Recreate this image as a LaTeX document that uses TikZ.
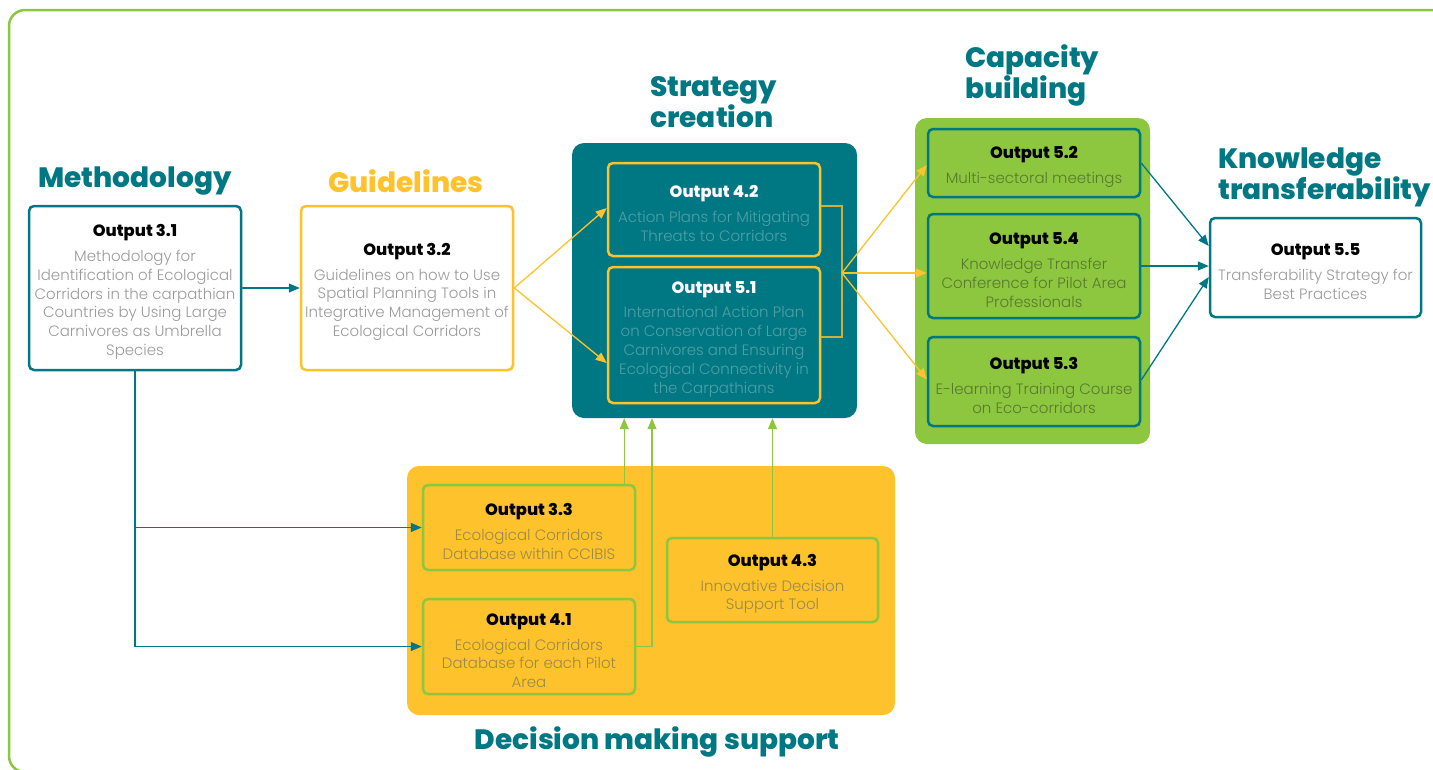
\documentclass[tikz,border=0pt]{standalone}
\usepackage{fontspec}
\setmainfont{Poppins}
\newfontfamily\lfont{Poppins Light}
\newfontfamily\xbfont{Poppins ExtraBold}
\usetikzlibrary{arrows.meta,calc}
\definecolor{teal}{HTML}{007883}
\definecolor{yel}{HTML}{FDC22C}
\definecolor{grn}{HTML}{8DC63F}
\definecolor{gtxt}{HTML}{9B9B9B}
\definecolor{ttxt}{HTML}{4F9FA6}
\definecolor{gntxt}{HTML}{587A2E}
\definecolor{ytxt}{HTML}{9C8A4A}
\definecolor{brk}{HTML}{C9B13A}
\newcommand\otitle[2]{{\color{#1}\xbfont\fontsize{16.3}{19}\selectfont\rule{0pt}{20pt}#2}\\[6pt]}
\tikzset{
  obox/.style={draw, rounded corners=5pt, line width=2.5pt, align=center, inner sep=0pt,
    font=\lfont\fontsize{15}{18.8}\selectfont},
  grp/.style={rounded corners=12pt, inner sep=0pt},
  gtitle/.style={font=\xbfont\fontsize{28}{31}\selectfont, inner sep=0pt},
  tarrow/.style={draw=teal, line width=1.3pt, -{Triangle[length=11pt,width=9pt]}},
  yarrow/.style={draw=yel, line width=1.3pt, -{Triangle[length=11pt,width=9pt]}},
  garrow/.style={draw=grn, line width=1.3pt, -{Triangle[length=11pt,width=9pt]}},
}
\begin{document}
\begin{tikzpicture}[x=1pt,y=-1pt]
\useasboundingbox (0,0) rectangle (1433,769);
\begin{scope}
\clip (0,0) rectangle (1433,769);
\draw[grn, line width=2.5pt, rounded corners=16pt] (9,10) rectangle (1470,772);
\end{scope}

% group boxes
\node[grp, fill=teal, minimum width=285pt, minimum height=275pt] (sc) at (714.5,280.5) {};
\node[grp, fill=grn, minimum width=235pt, minimum height=326pt] (cb) at (1032.5,281) {};
\node[grp, fill=yel, minimum width=488pt, minimum height=249pt] (dm) at (651,590.5) {};

% group titles
\node[gtitle, text=teal] (tm) at (135,181) {Methodology};
\node[gtitle, text=yel] (tg) at (406,181) {Guidelines};
\node[gtitle, text=teal, anchor=west, align=left] (ts) at (650,102) {Strategy\\creation};
\node[gtitle, text=teal, anchor=west, align=left] (tc) at (965,75) {Capacity\\building};
\node[gtitle, text=teal, anchor=west, align=left] (tk) at (1218,177) {Knowledge\\transferability};
\node[gtitle, text=teal] (td) at (657,742) {Decision making support};

% outputs
\node[obox, draw=teal, fill=white, text=gtxt, minimum width=212pt, minimum height=164pt] (n31) at (135,288)
 {\otitle{black}{Output 3.1}Methodology for\\Identification of Ecological\\Corridors in the carpathian\\Countries by Using Large\\Carnivores as Umbrella\\Species};
\node[obox, draw=yel, fill=white, text=gtxt, minimum width=212pt, minimum height=164pt] (n32) at (407,288)
 {\otitle{black}{Output 3.2}Guidelines on how to Use\\Spatial Planning Tools in\\Integrative Management of\\Ecological Corridors};
\node[obox, draw=yel, text=ttxt, minimum width=212pt, minimum height=93pt] (n42) at (714,209.5)
 {\otitle{white}{Output 4.2}Action Plans for Mitigating\\Threats to Corridors};
\node[obox, draw=yel, text=ttxt, minimum width=212pt, minimum height=136pt] (n51) at (714,335)
 {\otitle{white}{Output 5.1}International Action Plan\\on Conservation of Large\\Carnivores and Ensuring\\Ecological Connectivity in\\the Carpathians};
\node[obox, draw=teal, text=gntxt, minimum width=212pt, minimum height=68pt] (n52) at (1034,163)
 {\otitle{black}{Output 5.2}Multi-sectoral meetings};
\node[obox, draw=teal, text=gntxt, minimum width=212pt, minimum height=104pt] (n54) at (1034,266)
 {\otitle{black}{Output 5.4}Knowledge Transfer\\Conference for Pilot Area\\Professionals};
\node[obox, draw=teal, text=gntxt, minimum width=212pt, minimum height=89pt] (n53) at (1034,381.5)
 {\otitle{black}{Output 5.3}E-learning Training Course\\on Eco-corridors};
\node[obox, draw=teal, fill=white, text=gtxt, minimum width=211pt, minimum height=99pt] (n55) at (1315.5,267.5)
 {\otitle{black}{Output 5.5}Transferability Strategy for\\Best Practices};
\node[obox, draw=grn, text=ytxt, minimum width=212pt, minimum height=85pt] (n33) at (529,527.5)
 {\otitle{black}{Output 3.3}Ecological Corridors\\Database within CCIBIS};
\node[obox, draw=grn, text=ytxt, minimum width=212pt, minimum height=95pt] (n41) at (529,646.5)
 {\otitle{black}{Output 4.1}Ecological Corridors\\Database for each Pilot\\Area};
\node[obox, draw=grn, text=ytxt, minimum width=211pt, minimum height=84pt] (n43) at (772.5,580)
 {\otitle{black}{Output 4.3}Innovative Decision\\Support Tool};

% connectors
\draw[tarrow] (n31) -- (n32);
\draw[tarrow] (n31.south) |- (n33.west);
\draw[tarrow] (n31.south) |- (n41.west);
\draw[yarrow] (n32.east) -- ([yshift=1.5pt]n42.west);
\draw[yarrow] (n32.east) -- ([yshift=-28pt]n51.west);
\coordinate (j) at (842,273);
\draw[draw=brk, line width=1.2pt] ([yshift=3.5pt]n42.east) -| (j) |- ([yshift=-2pt]n51.east);
\draw[yarrow] (j) -- ([yshift=-2pt]n52.west);
\draw[yarrow] (j) -- (n54.west |- j);
\draw[yarrow] (j) -- ([yshift=2pt]n53.west);
\draw[tarrow] ([yshift=0pt]n52.east) -- ([yshift=21.5pt]n55.west);
\draw[tarrow] (n54.east) -- ([yshift=1.5pt]n55.west);
\draw[tarrow] ([yshift=1.5pt]n53.east) -- ([yshift=-9.5pt]n55.west);
\draw[garrow] ([xshift=-12pt]n33.north east) -- ([xshift=-12pt]n33.north east |- sc.south);
\draw[garrow] (n41.east) -| ([xshift=-62.5pt]sc.south);
\draw[garrow] (n43.north) -- (n43.north |- sc.south);
\end{tikzpicture}
\end{document}
